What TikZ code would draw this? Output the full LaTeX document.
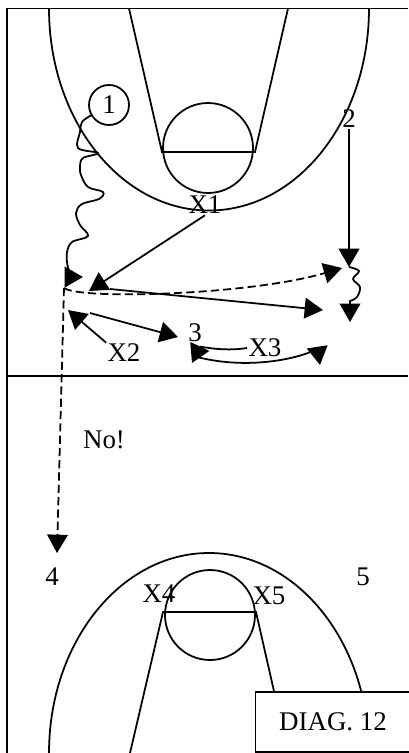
\documentclass[tikz,border=0pt]{standalone}
\usepackage{fontspec}
\setmainfont{Liberation Serif}
\usetikzlibrary{arrows.meta}

\begin{document}
\begin{tikzpicture}[
  x=0.03cm, y=-0.03cm,
  % Node Styles
  player/.style={circle, draw, line width=1.5pt, minimum size=1.2cm, inner sep=0pt},
  plabel/.style={inner sep=1pt},
  diagbox/.style={rectangle, draw, fill=white, line width=1.5pt, minimum width=4.65cm, minimum height=1.8cm},
  % Arrow Styles
  courtline/.style={line width=1.5pt},
  solidarrow/.style={-{Triangle[length=0.55cm,width=0.62cm]}, line width=1.5pt},
  dashedarrow/.style={solidarrow, dash pattern=on 7pt off 3.5pt}
]
\tikzset{font=\fontsize{23}{27}\selectfont}

\useasboundingbox (0,0) rectangle (408,753);

% Court
\draw[courtline] (7,753) -- (7,8.5) -- (408,8.5);
\draw[courtline] (7,376) -- (408,376);
\begin{scope}
  \clip (7,8.5) rectangle (408,376);
  \draw[courtline] (209,8.5) ellipse [x radius=160, y radius=202];
\end{scope}
\draw[courtline] (129,8.5) -- (162,152) -- (255,152) -- (288,8.5);
\draw[courtline] (208,148) circle [radius=45];
\begin{scope}
  \clip (7,376) rectangle (408,753);
  \draw[courtline] (209,753) ellipse [x radius=160, y radius=200];
\end{scope}
\draw[courtline] (130,753) -- (163,612) -- (256,612) -- (276,700);
\draw[courtline] (210,615) circle [radius=45];

% Players
\node[player] (p1) at (109,105) {1};
\node[plabel] (p2) at (349,119) {2};
\node[plabel] (p3) at (195,333) {3};
\node[plabel] (p4) at (52,577) {4};
\node[plabel] (p5) at (363,577) {5};
\node[plabel] (x1) at (205,205) {X1};
\node[plabel] (x2) at (124,353) {X2};
\node[plabel] (x3) at (265,348) {X3};
\node[plabel] (x4) at (159,594) {X4};
\node[plabel] (x5) at (269,596) {X5};
\node[plabel] (nolabel) at (104,440) {No!};
\node[diagbox] (diag) at (333,722) {DIAG. 12};

% Free ends
\coordinate (dribEnd) at (83,277);
\coordinate (x1End) at (89,291);
\coordinate (passStart) at (110,289);
\coordinate (passEnd) at (323,310);
\coordinate (cutStart) at (64,288);
\coordinate (cutEnd) at (342,268);
\coordinate (downEnd) at (57,553);
\coordinate (p2End) at (349,267);
\coordinate (squigEnd) at (350,322);
\coordinate (x2End) at (68,310);
\coordinate (x2PassStart) at (90,313);
\coordinate (x2PassEnd) at (178,337);
\coordinate (x3End) at (192,363);
\coordinate (x3RunStart) at (197,357);
\coordinate (x3RunEnd) at (320,365);

% Moves
\draw[solidarrow] plot[smooth, tension=0.6] coordinates {(p1.210) (82,122) (80,132) (78,148) (98,153) (83,158) (80,166) (81,175) (88,187) (103,192) (99,199) (82,204) (76,213) (80,225) (88,236) (72,242) (67,252) (67,262)} .. controls (68,272) and (74,277) .. (dribEnd);
\draw[solidarrow] (x1.south) -- (x1End);
\draw[solidarrow] (passStart) -- (passEnd);
\draw[dashedarrow] (cutStart) .. controls (80,300) and (250,295) .. (cutEnd);
\draw[dashedarrow] (cutStart) -- (downEnd);
\draw[solidarrow] (p2.south) -- (p2End);
\draw[solidarrow] plot[smooth, tension=0.6] coordinates {(p2End) (359,271) (353,279) (360,287) (357,297) (350,301)} -- (squigEnd);
\draw[solidarrow] (x2.north west) -- (x2End);
\draw[solidarrow] (x2PassStart) -- (x2PassEnd);
\draw[solidarrow] (x3.west) .. controls (222,352) and (200,346) .. (x3End);
\draw[solidarrow] (x3RunStart) .. controls (260,373) and (318,352) .. (x3RunEnd);

\end{tikzpicture}
\end{document}
